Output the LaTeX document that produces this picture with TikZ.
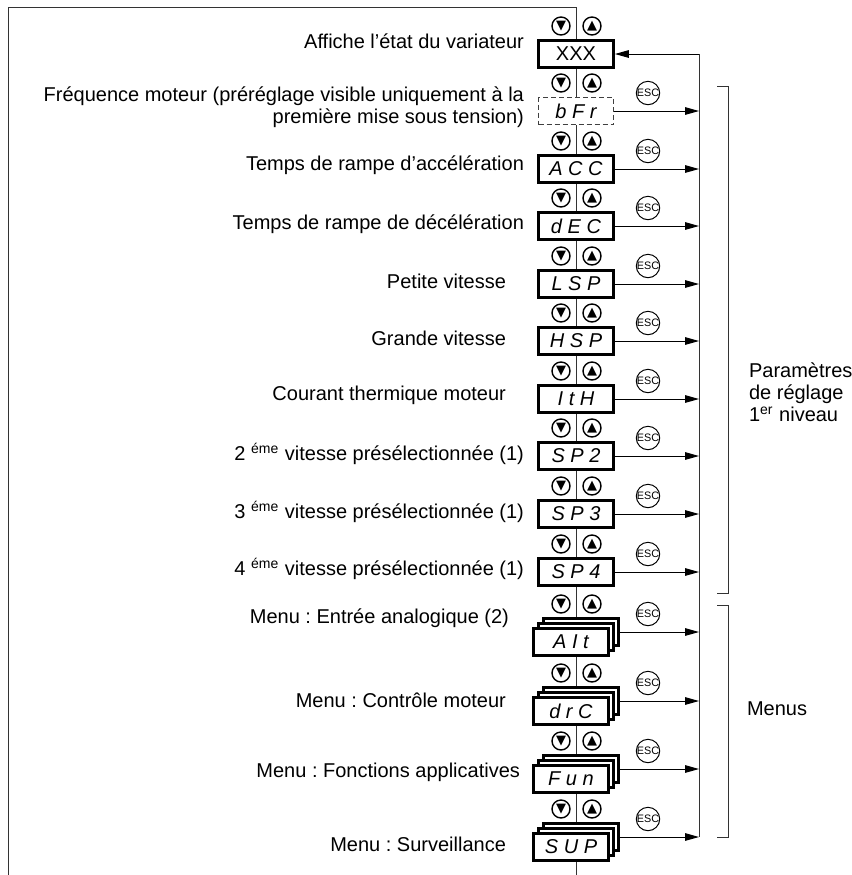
\documentclass[tikz,border=0pt]{standalone}
\usepackage{fontspec}
\setmainfont{Liberation Sans}
\newfontfamily\symfont{DejaVu Sans}
\usetikzlibrary{arrows.meta}
\frenchspacing
\tikzset{
  disp/.style={draw, line width=1.4pt, fill=white, minimum width=37.5pt, minimum height=13.5pt,
               inner sep=0pt, font=\itshape},
  dispdash/.style={disp, line width=0.5pt, dash pattern=on 2.5pt off 1.5pt, draw=black!75},
  key/.style={circle, draw, line width=0.7pt, fill=white, minimum size=9pt, inner sep=0pt,
              font=\symfont\fontsize{6.5}{7}\selectfont},
  esc/.style={circle, draw, line width=0.5pt, minimum size=11pt, inner sep=0pt,
              font=\fontsize{5.4}{6}\selectfont},
  flow/.style={-{Triangle[length=7pt, width=3.8pt]}, line width=0.5pt},
  wire/.style={line width=0.5pt, black!80},
  lbl/.style={anchor=east, align=right, font=\fontsize{10}{11}\selectfont},
  side/.style={anchor=west, align=left, font=\fontsize{10}{11}\selectfont}
}

\begin{document}
\begin{tikzpicture}[x=0.5pt, y=-0.5pt]
  \useasboundingbox (0,0) rectangle (852,875);
  \draw[wire] (8,875) -- (8,7) -- (576,7) -- (576,875);

  \node[disp, font=\normalfont] (XXX) at (576,54) {XXX};
  \node[dispdash] (bFr) at (576,111) {b F r};
  \node[disp] (ACC) at (576,169) {A C C};
  \node[disp] (dEC) at (576,226) {d E C};
  \node[disp] (LSP) at (576,284) {L S P};
  \node[disp] (HSP) at (576,341) {H S P};
  \node[disp] (ItH) at (576,399) {I t H};
  \node[disp] (SP2) at (576,456) {S P 2};
  \node[disp] (SP3) at (576,514) {S P 3};
  \node[disp] (SP4) at (576,572) {S P 4};

  \node[disp] (AIt) at (581,632) {};
  \node[disp] (AIt-m) at (576,637) {};
  \node[disp] (AIt-f) at (571,642) {A I t};
  \node[disp] (drC) at (581,701) {};
  \node[disp] (drC-m) at (576,706) {};
  \node[disp] (drC-f) at (571,711) {d r C};
  \node[disp] (Fun) at (581,769) {};
  \node[disp] (Fun-m) at (576,774) {};
  \node[disp] (Fun-f) at (571,779) {F u n};
  \node[disp] (SUP) at (581,837) {};
  \node[disp] (SUP-m) at (576,842) {};
  \node[disp] (SUP-f) at (571,847) {S U P};

  \foreach \n/\y in {XXX/54,bFr/111,ACC/169,dEC/226,LSP/284,HSP/341,ItH/399,SP2/456,SP3/514,
                     SP4/572,AIt/632,drC/701,Fun/769,SUP/837}{
    \node[key] (\n-dn) at (561,\y-28) {▼};
    \node[key] (\n-up) at (592,\y-28) {▲};
  }
  \foreach \n/\y in {bFr/111,ACC/169,dEC/226,LSP/284,HSP/341,ItH/399,SP2/456,SP3/514,
                     SP4/572,AIt/632,drC/701,Fun/769,SUP/837}{
    \node[esc] (\n-esc) at (648,\y-18) {ESC};
  }

  \coordinate (rt) at (699,54);
  \coordinate (rb) at (699,837);
  \draw[wire] (rt) -- (rb);
  \draw[flow] (rt) -- (XXX.east);
  \foreach \n in {bFr,ACC,dEC,LSP,HSP,ItH,SP2,SP3,SP4,AIt,drC,Fun,SUP}
    \draw[flow] (\n.east) -- (\n.east -| rt);

  \draw[wire] (717,86) -- (728,86) -- (728,593) -- (717,593);
  \draw[wire] (717,605) -- (728,605) -- (728,837) -- (717,837);
  \node[side] (par) at (742,392) {Paramètres\\de réglage\\1\textsuperscript{er} niveau};
  \node[side] (men) at (740,709) {Menus};

  \node[lbl] (l-XXX) at (531,41) {Affiche l’état du variateur};
  \node[lbl] (l-bFr) at (531,107) {Fréquence moteur (préréglage visible uniquement à la\\première mise sous tension)};
  \node[lbl] (l-ACC) at (531,165) {Temps de rampe d’accélération};
  \node[lbl] (l-dEC) at (531,224) {Temps de rampe de décélération};
  \node[lbl] (l-LSP) at (513,281) {Petite vitesse};
  \node[lbl] (l-HSP) at (513,338) {Grande vitesse};
  \node[lbl] (l-ItH) at (513,395) {Courant thermique moteur};
  \node[lbl] (l-SP2) at (531,454) {2 \textsuperscript{éme} vitesse présélectionnée (1)};
  \node[lbl] (l-SP3) at (531,512) {3 \textsuperscript{éme} vitesse présélectionnée (1)};
  \node[lbl] (l-SP4) at (531,569) {4 \textsuperscript{éme} vitesse présélectionnée (1)};
  \node[lbl] (l-AIt) at (516,618) {Menu : Entrée analogique (2)};
  \node[lbl] (l-drC) at (513,700) {Menu : Contrôle moteur};
  \node[lbl] (l-Fun) at (527,772) {Menu : Fonctions applicatives};
  \node[lbl] (l-SUP) at (513,844) {Menu : Surveillance};
\end{tikzpicture}
\end{document}
